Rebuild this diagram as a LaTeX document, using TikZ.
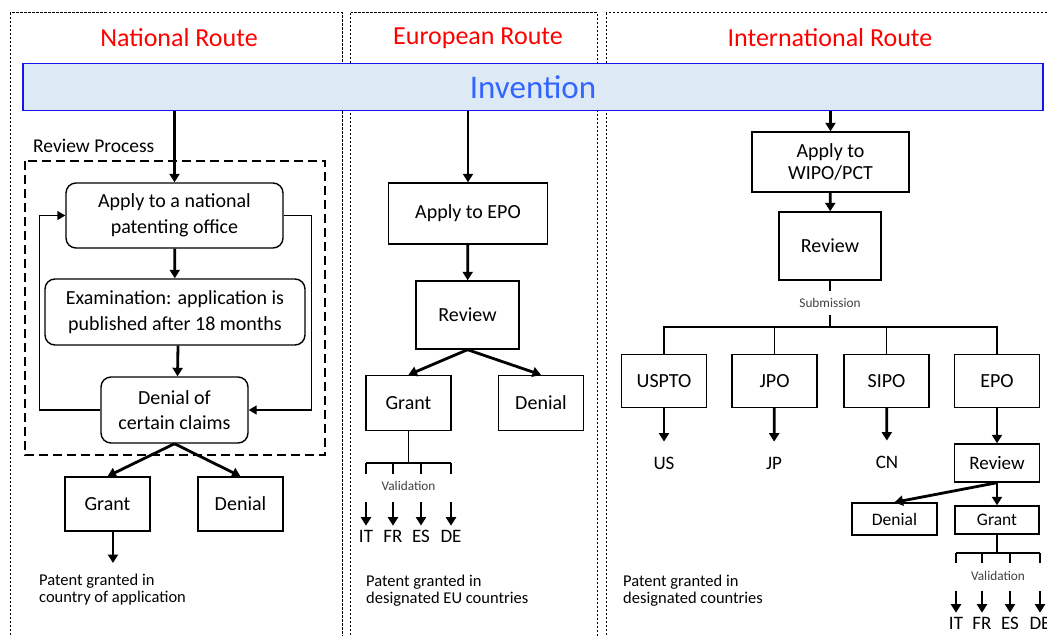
\documentclass[tikz,border=0pt]{standalone}
\usepackage{fontspec}
\setmainfont{Carlito}
\usetikzlibrary{positioning,arrows.meta}
\definecolor{invfill}{RGB}{222,233,246}
\definecolor{invline}{RGB}{20,20,235}
\definecolor{invtext}{RGB}{51,102,255}

\begin{document}
\begin{tikzpicture}[x=1pt, y=-1pt,
  panel/.style={line width=1pt, dash pattern=on 2.5pt off 1.5pt},
  routetitle/.style={text=red, font=\fontsize{26}{28}\selectfont},
  box/.style={draw, line width=1.4pt, align=center, inner sep=0pt, font=\fontsize{20}{25.5}\selectfont},
  rbox/.style={box, rounded corners=10pt},
  sbox/.style={box, font=\fontsize{17.5}{20}\selectfont},
  arr/.style={-{Triangle[width=10pt,length=8.5pt]}, line width=2.8pt},
  link/.style={line width=1.4pt},
  larr/.style={link, -{Triangle[width=9pt,length=8pt]}},
  valbar/.style={line width=2.8pt},
  cty/.style={font=\fontsize{19}{21}\selectfont, inner sep=4pt},
  lbl/.style={font=\fontsize{13.3}{15}\selectfont, text=black!75},
  note/.style={anchor=west, align=left, inner sep=0pt, font=\fontsize{16.5}{17}\selectfont}
]
\useasboundingbox (0,0) rectangle (1047,635);

\draw[panel] (10,12.5) rectangle (342,645);
\draw[panel] (350.5,12.5) rectangle (597,645);
\draw[panel] (606,12.5) rectangle (1060,645);
\node[routetitle] (ntitle) at (179,38) {National Route};
\node[routetitle] (etitle) at (478,38) {European Route};
\node[routetitle] (ititle) at (830,38) {International Route};

\node[draw=invline, fill=invfill, line width=1.6pt, minimum width=1020pt, minimum height=47pt,
  text=invtext, font=\fontsize{33}{36}\selectfont] (inv) at (533,87) {Invention};

% national route
\draw[line width=1.3pt, dash pattern=on 9pt off 5pt] (25,161) rectangle (325,455);
\node[anchor=west, inner sep=0pt, font=\fontsize{19.5}{22}\selectfont] (revproc) at (33,146) {Review Process};
\node[rbox, minimum width=217pt, minimum height=65pt] (napply) at (174.5,215.5) {Apply to a national\\patenting office};
\node[rbox, minimum width=260pt, minimum height=66pt] (nexam) at (175,312) {Examination: application is\\published after 18 months};
\node[rbox, minimum width=147pt, minimum height=66pt] (nclaims) at (174.5,410) {Denial of\\certain claims};
\node[box, minimum width=85pt, minimum height=54pt] (ngrant) at (107.5,504) {Grant};
\node[box, minimum width=85pt, minimum height=54pt] (ndeny) at (240.5,504) {Denial};
\coordinate (nend) at (113,563);
\node[note] (nnote) at (39,590) {Patent granted in\\country of application};
\draw[arr] (inv.south -| napply) -- (napply);
\draw[arr] (napply) -- (nexam);
\draw[arr] ([xshift=3pt]nexam.south) -- ([xshift=3pt]nclaims.north);
\draw[larr] (nclaims.west) -- ++(-61,0) |- (napply.west);
\draw[larr] (napply.east) -- ++(28,0) |- (nclaims.east);
\draw[arr] (nclaims.south) -- (ngrant.north);
\draw[arr] (nclaims.south) -- (ndeny.north);
\draw[arr] (ngrant.south -| nend) -- (nend);

% european route
\node[box, minimum width=159pt, minimum height=61pt] (eapply) at (468,213.5) {Apply to EPO};
\node[box, minimum width=103pt, minimum height=68pt] (erev) at (467.5,315) {Review};
\node[box, minimum width=85pt, minimum height=55pt] (egrant) at (408.5,403) {Grant};
\node[box, minimum width=85pt, minimum height=55pt] (edeny) at (541,403) {Denial};
\coordinate (ebar) at (408.5,463);
\node[lbl] (eval) at (408.5,486) {Validation};
\node[note] (enote) at (366,591) {Patent granted in\\designated EU countries};
\draw[arr] (inv.south -| eapply) -- (eapply);
\draw[arr] (eapply) -- (erev);
\draw[arr] (erev.south) -- (egrant.north);
\draw[arr] (erev.south) -- (edeny.north);
\draw[link] (egrant) -- (ebar);
\foreach \x/\c in {366/IT,393/FR,421/ES,451/DE} {
  \coordinate (et\c) at (\x,474);
  \coordinate (ea\c) at (\x,502);
  \node[cty] (el\c) at (\x,536) {\c};
  \draw[valbar] (et\c) -- (et\c |- ebar);
  \draw[arr] (ea\c) -- (el\c);
}
\draw[valbar] (etIT |- ebar) -- (etDE |- ebar);

% international route
\node[box, minimum width=157pt, minimum height=60pt, font=\fontsize{20}{22}\selectfont] (wipo) at (830.5,162) {Apply to\\WIPO/PCT};
\node[box, minimum width=102pt, minimum height=68pt] (irev) at (830,246) {Review};
\node[lbl, inner sep=7pt] (isub) at (830,303) {Submission};
\coordinate (ibar) at (830,327);
\foreach \x/\o/\n in {664/USPTO/us, 774.5/JPO/jp, 886.5/SIPO/cn, 997/EPO/ep}
  \node[box, minimum width=85pt, minimum height=53pt] (i\n) at (\x,381) {\o};
\node[cty] (lus) at (664,463) {US};
\node[cty] (ljp) at (774,463) {JP};
\node[cty] (lcn) at (887,462) {CN};
\node[box, minimum width=85pt, minimum height=38pt, font=\fontsize{19}{21}\selectfont] (iepr) at (997,463) {Review};
\node[sbox, minimum width=85pt, minimum height=32pt] (ideny) at (894.5,519) {Denial};
\node[sbox, minimum width=84pt, minimum height=28pt] (igrant) at (997,520) {Grant};
\coordinate (igbar) at (997,553);
\node[lbl] (ival) at (998,576) {Validation};
\node[note] (inote) at (623,591) {Patent granted in\\designated countries};
\draw[arr] (inv.south -| wipo) -- (wipo);
\draw[arr] (wipo) -- (irev);
\draw[link] (irev) -- (isub);
\draw[link] (isub) -- (ibar);
\draw[link] (ius.north) |- (ibar) -| (iep.north);
\draw[link] (ijp.north) |- (ibar) -| (icn.north);
\draw[arr, shorten >=11pt] (ius) -- (lus);
\draw[arr, shorten >=11pt] (ijp) -- (ljp);
\draw[arr, shorten >=11pt] (icn) -- (lcn);
\draw[arr] (iep) -- (iepr);
\draw[arr] (iepr.south) -- (ideny.north);
\draw[arr] (iepr) -- (igrant);
\draw[link] (igrant) -- (igbar);
\foreach \x/\c in {956/IT,982/FR,1010/ES,1040/DE} {
  \coordinate (it\c) at (\x,563);
  \coordinate (ia\c) at (\x,591);
  \node[cty] (il\c) at (\x,623) {\c};
  \draw[valbar] (it\c) -- (it\c |- igbar);
  \draw[arr] (ia\c) -- (il\c);
}
\draw[valbar] (itIT |- igbar) -- (itDE |- igbar);
\end{tikzpicture}
\end{document}
